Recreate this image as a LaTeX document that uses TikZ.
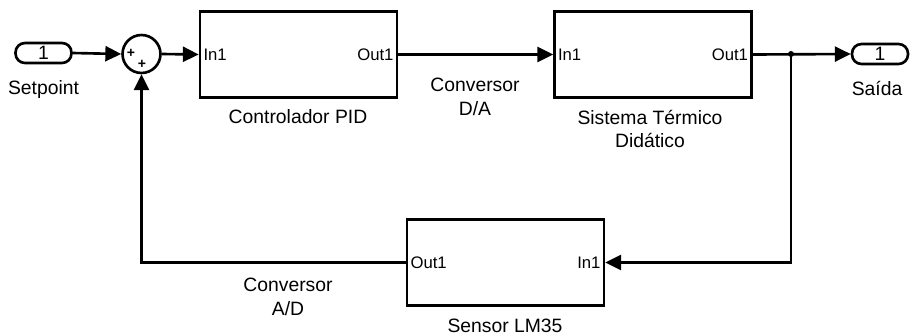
\documentclass[tikz,border=0pt]{standalone}
\usepackage{fontspec}
\setmainfont{Liberation Sans}
\usetikzlibrary{arrows.meta}
\begin{document}
\begin{tikzpicture}[x=0.02cm, y=-0.02cm, line width=1.5pt, line join=miter,
		font=\fontsize{11}{13.5}\selectfont, >={Triangle[length=9pt,width=8.5pt]},
		bloco/.style={draw, minimum width=3.94cm, minimum height=1.72cm, inner sep=0pt},
		porto/.style={draw, rounded corners=0.19cm, minimum width=1.12cm, minimum height=0.4cm, inner sep=0pt},
		sinal/.style={font=\fontsize{8}{8}\selectfont\bfseries, inner sep=0pt},
		pino/.style={font=\fontsize{9.5}{10}\selectfont, inner sep=2pt}]
	\useasboundingbox (0,0) rectangle (912,335);
	% blocos
	\node[porto] (setpoint) at (43.5,53) {1};
	\node[anchor=base] at (43.5,94) {Setpoint};
	\node[draw, circle, minimum size=0.76cm, inner sep=0pt] (soma) at (141.5,54) {};
	\node[sinal] at (131,53) {+};
	\node[sinal] at (142,64) {+};
	\node[bloco] (pid) at (298.5,54.5) {};
	\node[anchor=base] at (298,123) {Controlador PID};
	\node[bloco] (planta) at (653,54.5) {};
	\node[align=center] at (650,129) {Sistema Térmico\\Didático};
	\node[bloco] (sensor) at (505.5,262.5) {};
	\node[anchor=base] at (505,332) {Sensor LM35};
	\node[porto] (saida) at (880,54) {1};
	\node[anchor=base] at (877,95) {Saída};
	% portas
	\node[pino, right] at (pid.west) {In1};
	\node[pino, left] at (pid.east) {Out1};
	\node[pino, right] at (planta.west) {In1};
	\node[pino, left] at (planta.east) {Out1};
	\node[pino, right] at (sensor.west) {Out1};
	\node[pino, left] at (sensor.east) {In1};
	% ligacoes
	\coordinate (ramo) at (791,54);
	\draw[->] (setpoint.east) -- (soma.west);
	\draw[->] (soma.east) -- (pid.west);
	\draw[->] (pid.east) -- (planta.west);
	\draw[->] (planta.east) -- (saida.west);
	\draw[->] (ramo) |- (sensor.east);
	\draw[->] (sensor.west) -| (soma.south);
	\fill (ramo) circle (3);
	\node[align=center] at (475,97) {Conversor\\D/A};
	\node[align=center] at (288,296.5) {Conversor\\A/D};
\end{tikzpicture}
\end{document}
